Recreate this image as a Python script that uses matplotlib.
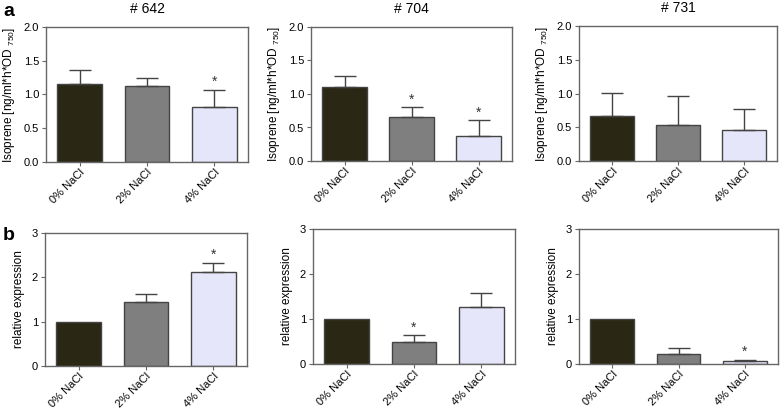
import numpy as np
import matplotlib
matplotlib.use("Agg")
import matplotlib.pyplot as plt

plt.rcParams['font.family'] = ['Liberation Sans', 'DejaVu Sans']
plt.rcParams['mathtext.fontset'] = 'custom'
plt.rcParams['mathtext.rm'] = 'Liberation Sans'

labels = ["0% NaCl", "2% NaCl", "4% NaCl"]
strains = ["# 642", "# 704", "# 731"]

# isoprene production (row a)
iso_mean = [[1.16, 1.12, 0.82], [1.11, 0.65, 0.38], [0.66, 0.54, 0.46]]
iso_err = [[0.20, 0.12, 0.25], [0.16, 0.15, 0.23], [0.35, 0.43, 0.31]]
iso_sig = [[False, False, True], [False, True, True], [False, False, False]]

# relative expression (row b)
expr_mean = [[1.0, 1.44, 2.11], [1.0, 0.49, 1.27], [1.0, 0.22, 0.07]]
expr_err = [[0.0, 0.18, 0.22], [0.0, 0.15, 0.30], [0.0, 0.14, 0.03]]
expr_sig = [[False, False, True], [False, True, False], [False, False, True]]

colors = ["#2a2814", "#7f7f7f", "#e6e6fa"]
edge = "#444444"

W, H = 784, 411
fig = plt.figure(figsize=(W / 100, H / 100), dpi=100)

# axes boxes in pixels: left, top, right, bottom
boxes_a = [(46, 27, 248, 162), (311, 27, 512, 161), (579, 26, 777, 161)]
boxes_b = [(45, 233, 247, 366), (313, 229, 515, 364), (579, 229, 778, 364)]


def make_ax(box):
    l, t, r, b = box
    return fig.add_axes([l / W, 1 - b / H, (r - l) / W, (b - t) / H])


def draw(ax, means, errs, sigs, ymax, yticks, fmt, ylabel):
    x = np.arange(3)
    ax.bar(x, means, width=0.66, color=colors, edgecolor=edge, linewidth=1.0, zorder=2)
    for xi, m, e, s in zip(x, means, errs, sigs):
        if e > 0:
            ax.errorbar(xi, m, yerr=[[0], [e]], fmt='none', ecolor=edge,
                        elinewidth=1.0, capsize=8, capthick=1.0, zorder=3)
        if s:
            ax.text(xi, m + e + ymax * 0.005, "*", ha='center', va='bottom',
                    fontsize=10, color='#333333')
    ax.set_xlim(-0.5, 2.5)
    ax.set_ylim(0, ymax)
    ax.set_yticks(yticks)
    ax.set_yticklabels([fmt.format(v) for v in yticks], fontsize=8)
    ax.set_xticks(x)
    ax.set_xticklabels(labels, rotation=45, ha='right', rotation_mode='anchor', fontsize=8)
    for sp in ax.spines.values():
        sp.set_color('#666666')
        sp.set_linewidth(1.0)
    ax.tick_params(direction='out', length=3, color='#666666', pad=2)
    ax.tick_params(axis='x', pad=1)
    ax.set_ylabel(ylabel, fontsize=8.5, labelpad=5)


for i in range(3):
    ax = make_ax(boxes_a[i])
    draw(ax, iso_mean[i], iso_err[i], iso_sig[i], 2.0, [0.0, 0.5, 1.0, 1.5, 2.0],
         "{:.1f}", r"Isoprene [ng/ml*h*OD $_{750}$]")
    ax.set_title(strains[i], fontsize=10, pad=10)

    ax = make_ax(boxes_b[i])
    draw(ax, expr_mean[i], expr_err[i], expr_sig[i], 3, [0, 1, 2, 3],
         "{:d}", "relative expression")

fig.text(3 / W, 1 - 12 / H, "a", fontsize=14, fontweight='bold', va='center')
fig.text(3 / W, 1 - 235 / H, "b", fontsize=14, fontweight='bold', va='center')

fig.savefig("out.png", dpi=100)
